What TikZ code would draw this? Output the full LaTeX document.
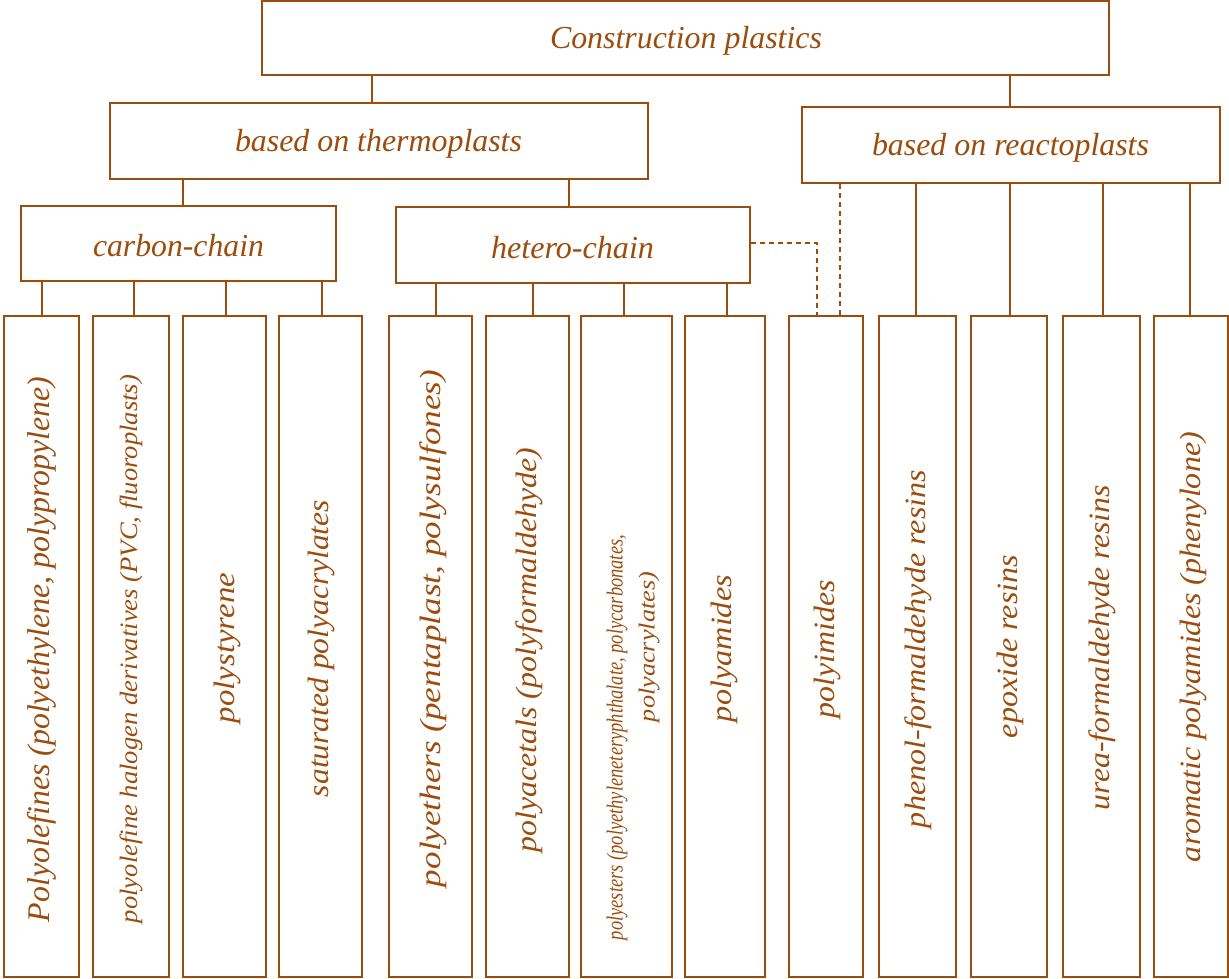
\documentclass[tikz,border=0pt]{standalone}
\usepackage{fontspec}
\usepackage{graphicx}
\setmainfont{Liberation Serif}
\definecolor{brn}{RGB}{156,76,12}
\newcommand\fitto[2]{\resizebox{#1pt}{\height}{#2}}
\begin{document}
\begin{tikzpicture}[x=1pt,y=-1pt,
  box/.style={draw=brn,line width=2.7pt,inner sep=0pt,rectangle},
  col/.style={box,minimum width=#1,minimum height=661pt},
  lbl/.style={text=brn,font=\fontsize{32}{36}\selectfont\itshape,inner sep=0pt},
  vl/.style={text=brn,font=\fontsize{29.5}{33}\selectfont\itshape,inner sep=0pt,rotate=90},
  ln/.style={draw=brn,line width=1.2pt},
  dl/.style={draw=brn,line width=1.2pt,dash pattern=on 5pt off 4pt}]
\useasboundingbox (0,0) rectangle (1229,979);
\node[box,minimum width=847pt,minimum height=74pt] (top) at (685.5,38) {};
\node[lbl] (ttop) at (686,41) {\fitto{272}{Construction plastics}};
\node[box,minimum width=538pt,minimum height=76pt] (thermo) at (379,141) {};
\node[lbl] (tthermo) at (378.5,144) {\fitto{287}{based on thermoplasts}};
\node[box,minimum width=418pt,minimum height=76pt] (reacto) at (1011,145) {};
\node[lbl] (treacto) at (1010.5,148) {\fitto{277}{based on reactoplasts}};
\node[box,minimum width=315pt,minimum height=75pt] (carbon) at (178.5,243.5) {};
\node[lbl] (tcarbon) at (178.5,245.5) {\fitto{171}{carbon-chain}};
\node[box,minimum width=354pt,minimum height=76pt] (hetero) at (573,245) {};
\node[lbl] (thetero) at (572.5,248) {\fitto{163}{hetero-chain}};
% columns
\node[col=75pt] (c1) at (41.5,646.5) {};
\node[col=76pt] (c2) at (131,646.5) {};
\node[col=83pt] (c3) at (224.5,646.5) {};
\node[col=83pt] (c4) at (320.5,646.5) {};
\node[col=83pt] (c5) at (430.5,646.5) {};
\node[col=83pt] (c6) at (527.5,646.5) {};
\node[col=91pt] (c7) at (626.5,646.5) {};
\node[col=80pt] (c8) at (725,646.5) {};
\node[col=74pt] (c9) at (826,646.5) {};
\node[col=77pt] (c10) at (917.5,646.5) {};
\node[col=76pt] (c11) at (1009,646.5) {};
\node[col=77pt] (c12) at (1101.5,646.5) {};
\node[col=74pt] (c13) at (1191,646.5) {};
\node[vl,font=\fontsize{31.5}{35}\selectfont\itshape] (t1) at (42,649.5) {\fitto{545}{Polyolefines (polyethylene, polypropylene)}};
\node[vl,font=\fontsize{25}{29}\selectfont\itshape] (t2) at (131,649) {\fitto{548}{polyolefine halogen derivatives (PVC, fluoroplasts)}};
\node[vl] (t3) at (227,648) {\fitto{150}{polystyrene}};
\node[vl] (t4) at (321,648.5) {\fitto{297}{saturated polyacrylates}};
\node[vl] (t5) at (433,628.5) {\fitto{517}{polyethers (pentaplast, polysulfones)}};
\node[vl] (t6) at (529,650) {\fitto{404}{polyacetals (polyformaldehyde)}};
\node[vl,font=\fontsize{23}{27}\selectfont\itshape] (t7a) at (617,737.5) {\fitto{405}{polyesters (polyethyleneteryphthalate, polycarbonates,}};
\node[vl,font=\fontsize{23}{27}\selectfont\itshape] (t7b) at (649,647) {\fitto{150}{polyacrylates)}};
\node[vl] (t8) at (724,648.5) {\fitto{147}{polyamides}};
\node[vl] (t9) at (827,649) {\fitto{138}{polyimides}};
\node[vl] (t10) at (918,649) {\fitto{358}{phenol-formaldehyde resins}};
\node[vl] (t11) at (1010,646.5) {\fitto{183}{epoxide resins}};
\node[vl] (t12) at (1102,647.5) {\fitto{325}{urea-formaldehyde resins}};
\node[vl] (t13) at (1193,647) {\fitto{430}{aromatic polyamides (phenylone)}};
% connectors
\draw[ln] (top.south -| 372,0) -- (thermo.north -| 372,0);
\draw[ln] (top.south -| 1010,0) -- (reacto.north -| 1010,0);
\draw[ln] (thermo.south -| 183,0) -- (carbon.north -| 183,0);
\draw[ln] (thermo.south -| 569,0) -- (hetero.north -| 569,0);
\foreach \x/\c in {42/c1,134/c2,226/c3,322/c4}
  \draw[ln] (carbon.south -| \x,0) -- (\c.north -| \x,0);
\foreach \x/\c in {436/c5,533/c6,624/c7,727/c8}
  \draw[ln] (hetero.south -| \x,0) -- (\c.north -| \x,0);
\foreach \x/\c in {916/c10,1010/c11,1103/c12,1190/c13}
  \draw[ln] (reacto.south -| \x,0) -- (\c.north -| \x,0);
\draw[dl] (reacto.south -| 840,0) -- (c9.north -| 840,0);
\coordinate (bend) at (817,243);
\draw[dl] (hetero.east |- bend) -- (bend) -- (c9.north -| bend);
\end{tikzpicture}
\end{document}
